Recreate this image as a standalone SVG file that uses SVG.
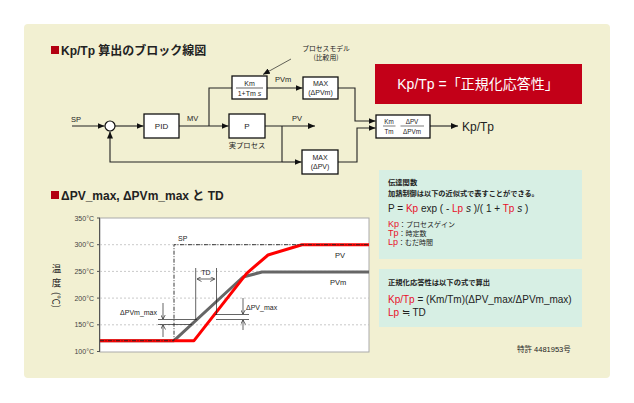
<svg xmlns="http://www.w3.org/2000/svg" width="634" height="403" viewBox="0 0 634 403">
<style>
text{font-family:"Liberation Sans","Noto Sans CJK JP",sans-serif;fill:#222}
.jp{font-family:"Noto Sans CJK JP",sans-serif}
.ttl{font-size:12px;font-weight:700}
.blk{fill:#fff;stroke:#111;stroke-width:1.3}
.bt{font-size:7px;text-anchor:middle}
.lb{font-size:7.5px}
.ln{fill:none;stroke:#222;stroke-width:1.1}
.thin{fill:none;stroke:#222;stroke-width:0.7}
.tick{font-size:7px;text-anchor:end;fill:#444}
.grid{stroke:#bbb;stroke-width:0.8;stroke-dasharray:2,2}
.red{fill:#e8102a}
.info{fill:#d7efe4}
</style>
<defs>
<marker id="ah" markerWidth="7" markerHeight="6" refX="7" refY="3" orient="auto" markerUnits="userSpaceOnUse"><path d="M0,0 L7,3 L0,6 z" fill="#111"/></marker>
<marker id="sa" markerWidth="5" markerHeight="5" refX="4.5" refY="2.5" orient="auto" markerUnits="userSpaceOnUse"><path d="M0,0 L4.5,2.5 L0,5" fill="none" stroke="#222" stroke-width="0.7"/></marker>
<marker id="sas" markerWidth="5" markerHeight="5" refX="0.5" refY="2.5" orient="auto" markerUnits="userSpaceOnUse"><path d="M4.5,0 L0,2.5 L4.5,5" fill="none" stroke="#222" stroke-width="0.7"/></marker>
</defs>
<rect x="0" y="0" width="634" height="403" fill="#fff"/>
<rect x="24" y="24" width="586" height="354" rx="4" fill="#f2f0d2"/>

<!-- titles -->
<g id="title1"><rect x="51" y="46" width="8" height="8" fill="#b30012"/><text x="61" y="55" class="ttl">Kp/Tp 算出のブロック線図</text></g>
<g id="title2"><rect x="51" y="191" width="8" height="8" fill="#b30012"/><text x="61" y="200" class="ttl">ΔPV_max, ΔPVm_max と TD</text></g>

<!-- connectors -->
<g id="connectors">
<path class="ln" d="M72,126 H104.5" marker-end="url(#ah)"/>
<path class="ln" d="M115,126 H143.5" marker-end="url(#ah)"/>
<path class="ln" d="M179,126 H228.5" marker-end="url(#ah)"/>
<path class="ln" d="M209,126 V88 H232"/>
<path class="ln" d="M267,88 H302.5" marker-end="url(#ah)"/>
<path class="ln" d="M265,126 H315" marker-end="url(#ah)"/>
<path class="ln" d="M282,126 V162"/>
<path class="ln" d="M282,162 H301.5" marker-end="url(#ah)"/>
<path class="ln" d="M282,162 H110 V131.5" marker-end="url(#ah)"/>
<path class="ln" d="M338,88 H355 V121 H375.5" marker-end="url(#ah)"/>
<path class="ln" d="M338,162 H357 V128 H375.5" marker-end="url(#ah)"/>
<path class="ln" d="M430,126 H458" marker-end="url(#ah)"/>
<path class="thin" d="M291,59 L263,74.5" marker-end="url(#ah)"/>
</g>

<!-- block nodes -->
<g id="sum"><circle cx="110" cy="126" r="5" fill="#fff" stroke="#111" stroke-width="1.2"/></g>
<g id="sp-label"><text x="71" y="122" class="lb">SP</text></g>
<g id="pid"><rect class="blk" x="144" y="114" width="35" height="24"/><text x="161.5" y="129" class="bt" style="font-size:8px">PID</text></g>
<g id="mv-label"><text x="187" y="121" class="lb">MV</text></g>
<g id="model"><rect class="blk" x="232" y="76" width="35" height="23"/><text x="249.5" y="85.5" class="bt">Km</text><line x1="236" y1="88" x2="263" y2="88" stroke="#222" stroke-width="0.7"/><text x="249.5" y="96" class="bt">1+Tm <tspan font-style="italic">s</tspan></text></g>
<g id="model-note"><text x="326" y="51" class="jp" text-anchor="middle" style="font-size:6.8px">プロセスモデル</text><text x="326" y="59.5" class="jp" text-anchor="middle" style="font-size:6.8px">(比較用)</text></g>
<g id="pvm-label"><text x="275" y="82" class="lb">PVm</text></g>
<g id="max-pvm"><rect class="blk" x="303" y="77" width="35" height="22"/><text x="320.5" y="86" class="bt">MAX</text><text x="320.5" y="94.5" class="bt">(ΔPVm)</text></g>
<g id="process"><rect class="blk" x="229" y="114" width="36" height="24"/><text x="247" y="129" class="bt" style="font-size:8px">P</text><text x="247" y="148" class="jp" text-anchor="middle" style="font-size:7.3px">実プロセス</text></g>
<g id="pv-label"><text x="292" y="121" class="lb">PV</text></g>
<g id="max-pv"><rect class="blk" x="302" y="150" width="36" height="24"/><text x="320" y="160" class="bt">MAX</text><text x="320" y="169" class="bt">(ΔPV)</text></g>
<g id="ratio"><rect class="blk" x="376" y="115" width="54" height="23"/>
<text x="389" y="124" class="bt" style="font-size:6.3px">Km</text><line x1="383" y1="126" x2="395.5" y2="126" stroke="#222" stroke-width="0.6"/><text x="389" y="133.5" class="bt" style="font-size:6.3px">Tm</text>
<text x="412" y="124" class="bt" style="font-size:6.3px">ΔPV</text><line x1="400.5" y1="126" x2="424" y2="126" stroke="#222" stroke-width="0.6"/><text x="412" y="133.5" class="bt" style="font-size:6.3px">ΔPVm</text></g>
<g id="out"><text x="462" y="131" style="font-size:12px">Kp/Tp</text></g>
<g id="banner"><rect x="375" y="64" width="207" height="40" fill="#c30018"/><text x="478" y="89" text-anchor="middle" style="font-size:14px;fill:#fff">Kp/Tp =「正規化応答性」</text></g>

<!-- chart -->
<g id="chart">
<rect x="100" y="218" width="269" height="134" fill="#fff" stroke="#aaa" stroke-width="1"/>
<line x1="100" y1="244.7" x2="369" y2="244.7" class="grid"/>
<line x1="100" y1="271.4" x2="369" y2="271.4" class="grid"/>
<line x1="100" y1="298.1" x2="369" y2="298.1" class="grid"/>
<line x1="100" y1="324.8" x2="369" y2="324.8" class="grid"/>
<line x1="99.5" y1="218" x2="99.5" y2="352" stroke="#555" stroke-width="1"/>
<path d="M97,218 H100 M97,244.7 H100 M97,271.4 H100 M97,298.1 H100 M97,324.8 H100 M97,351.5 H100" stroke="#555" stroke-width="1"/>
<text x="94" y="220.5" class="tick">350°C</text>
<text x="94" y="247.2" class="tick">300°C</text>
<text x="94" y="273.9" class="tick">250°C</text>
<text x="94" y="300.6" class="tick">200°C</text>
<text x="94" y="327.3" class="tick">150°C</text>
<text x="94" y="354" class="tick">100°C</text>
<text x="56.5" y="272" class="jp" text-anchor="middle" style="font-size:9.5px">温</text>
<text x="56.5" y="286" class="jp" text-anchor="middle" style="font-size:9.5px">度</text>
<text transform="translate(53,300) rotate(90)" class="jp" text-anchor="middle" style="font-size:9.5px">(℃)</text>
<path d="M100,340.7 H174 L243,277 L262,272 H369" fill="none" stroke="#666" stroke-width="3" stroke-linejoin="round"/>
<path d="M100,340.7 H194 L246.7,273.3 L268,255 L302,244.7 H369" fill="none" stroke="#f00" stroke-width="3" stroke-linejoin="round"/>
<path d="M100,340.7 H174 V244.7 H369" fill="none" stroke="#222" stroke-width="0.9" stroke-dasharray="4,1.5,1,1.5"/>
<text x="178" y="241" style="font-size:7px">SP</text>
<text x="335" y="258" style="font-size:7.5px">PV</text>
<text x="330" y="285" style="font-size:7.5px">PVm</text>
<path class="thin" d="M195.7,268 V320 M216.5,268 V315"/>
<path class="thin" d="M197.5,279 H214.7" marker-start="url(#sas)" marker-end="url(#sa)"/>
<text x="206" y="274.5" text-anchor="middle" style="font-size:7px">TD</text>
<path class="thin" d="M158,319.5 H197 M158,324.5 H192"/>
<path class="thin" d="M163,303 V319" marker-end="url(#sa)"/>
<path class="thin" d="M163,337 V325" marker-end="url(#sa)"/>
<text x="157" y="314.5" text-anchor="end" style="font-size:7px">ΔPVm_max</text>
<path class="thin" d="M215,314.5 H249 M216,319.5 H249"/>
<path class="thin" d="M243,298 V314" marker-end="url(#sa)"/>
<path class="thin" d="M243,330 V320" marker-end="url(#sa)"/>
<text x="246" y="310" style="font-size:7px">ΔPV_max</text>
</g>

<!-- info boxes -->
<g id="info1">
<rect class="info" x="379" y="170" width="203" height="89"/>
<text x="388" y="185" class="jp" style="font-size:7.3px;font-weight:700">伝達関数</text>
<text x="388" y="196" class="jp" style="font-size:7.2px;font-weight:700">加熱制御は以下の近似式で表すことができる。</text>
<text x="388" y="212" style="font-size:10px">P = <tspan class="red">Kp</tspan> exp ( - <tspan class="red">Lp</tspan> <tspan font-style="italic">s</tspan> )/( 1 + <tspan class="red">Tp</tspan> <tspan font-style="italic">s</tspan> )</text>
<text x="388" y="226.5" style="font-size:9px"><tspan class="red">Kp</tspan><tspan class="jp" style="font-size:7px">：プロセスゲイン</tspan></text>
<text x="388" y="235.8" style="font-size:9px"><tspan class="red">Tp</tspan><tspan class="jp" style="font-size:7px">：時定数</tspan></text>
<text x="388" y="245" style="font-size:9px"><tspan class="red">Lp</tspan><tspan class="jp" style="font-size:7px">：むだ時間</tspan></text>
</g>
<g id="info2">
<rect class="info" x="379" y="269" width="203" height="58"/>
<text x="388" y="284.5" class="jp" style="font-size:7.3px;font-weight:700">正規化応答性は以下の式で算出</text>
<text x="388" y="303" style="font-size:10px"><tspan class="red">Kp/Tp</tspan> = (Km/Tm)(ΔPV_max/ΔPVm_max)</text>
<text x="388" y="315.5" style="font-size:10px"><tspan class="red">Lp</tspan> ≒ TD</text>
</g>
<g id="patent"><text x="517" y="352" style="font-size:7.5px">特許 4481953号</text></g>
</svg>
